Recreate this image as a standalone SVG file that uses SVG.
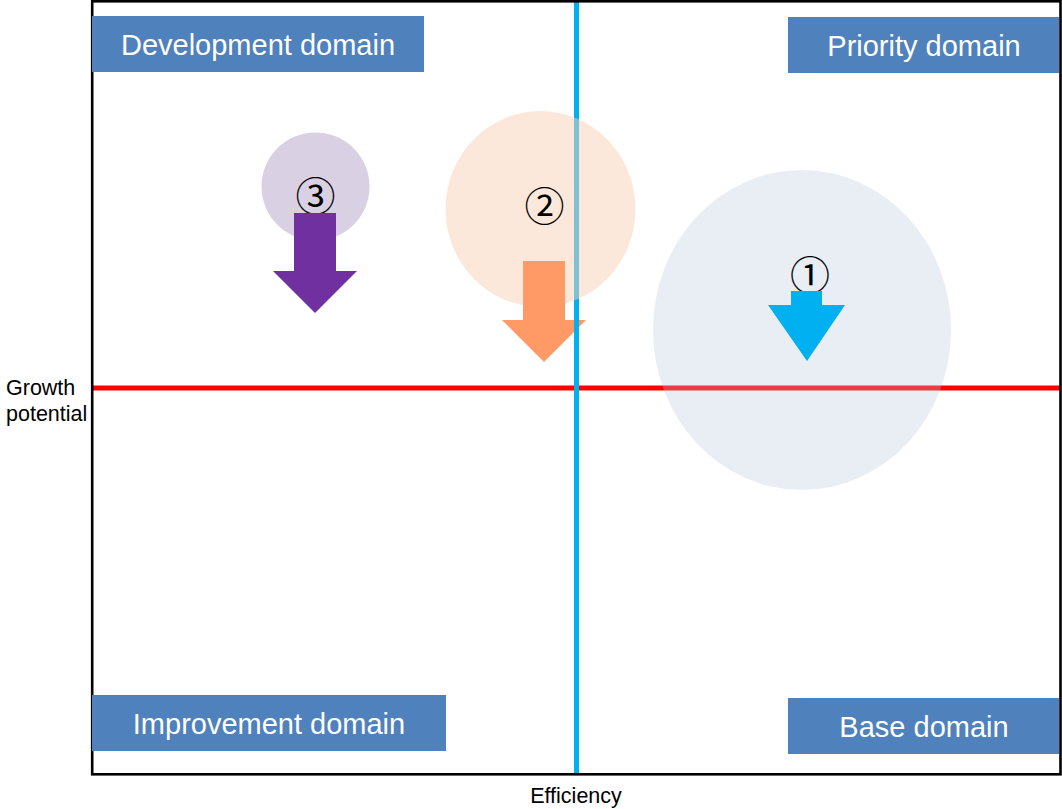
<svg xmlns="http://www.w3.org/2000/svg" width="1062" height="809" viewBox="0 0 1062 809">
  <style>
    .domain { fill: #4F81BD; }
    .domain-label { font-family: "Liberation Sans", Arial, sans-serif; font-size: 29px; fill: #FFFFFF; text-anchor: middle; }
    .axis-label { font-family: "Liberation Sans", Arial, sans-serif; font-size: 21.5px; fill: #000000; }
    .num { font-family: "Noto Sans CJK JP", "DejaVu Sans", sans-serif; font-size: 40px; fill: #000000; text-anchor: middle; }
    .v-axis { stroke: #00B0F0; stroke-width: 5; fill: none; }
    .h-axis { stroke: #FF0000; stroke-width: 5; fill: none; }
  </style>

  <rect x="0" y="0" width="1062" height="809" fill="#FFFFFF"/>

  <!-- axes -->
  <g id="axes">
    <line class="v-axis" x1="576.5" y1="0" x2="576.5" y2="774"/>
    <line class="h-axis" x1="92" y1="388" x2="1060" y2="388"/>
  </g>

  <!-- bubbles -->
  <g id="bubble-1">
    <ellipse cx="802" cy="330" rx="149" ry="160" fill="#B6C8DE" fill-opacity="0.3"/>
  </g>
  <g id="bubble-2">
    <ellipse cx="540.5" cy="209" rx="95" ry="98" fill="#F9D2B6" fill-opacity="0.5"/>
  </g>
  <g id="bubble-3">
    <circle cx="315.5" cy="186.5" r="54" fill="#D9D0E3"/>
  </g>

  <!-- numbers -->
  <g id="labels-num">
    <text class="num" x="315.5" y="211">③</text>
    <text class="num" x="544.5" y="221">②</text>
    <text class="num" x="810" y="290">①</text>
  </g>

  <!-- downward arrows -->
  <g id="arrow-3">
    <polygon points="294,213 336,213 336,271 357,271 315,313 273,271 294,271" fill="#7030A0"/>
  </g>
  <g id="arrow-2">
    <polygon points="523,261 565,261 565,320 586,320 544,362 502,320 523,320" fill="#FF9966"/>
  </g>
  <g id="arrow-1">
    <polygon points="791,291 822,291 822,305 845,305 807,361 768,305 791,305" fill="#00B0F0"/>
  </g>

  <!-- efficiency axis passing over the lower arrowhead -->
  <line class="v-axis" x1="576.5" y1="306" x2="576.5" y2="774"/>

  <!-- frame -->
  <rect x="92.2" y="1.3" width="968.3" height="773" fill="none" stroke="#000000" stroke-width="2.6"/>

  <!-- quadrant tags -->
  <g id="development-domain">
    <rect class="domain" x="92" y="16" width="332" height="56"/>
    <text class="domain-label" x="258" y="55">Development domain</text>
  </g>
  <g id="priority-domain">
    <rect class="domain" x="788" y="17" width="271" height="56"/>
    <text class="domain-label" x="924" y="56">Priority domain</text>
  </g>
  <g id="improvement-domain">
    <rect class="domain" x="92" y="695" width="354" height="56"/>
    <text class="domain-label" x="269" y="734">Improvement domain</text>
  </g>
  <g id="base-domain">
    <rect class="domain" x="788" y="698" width="271" height="56"/>
    <text class="domain-label" x="924" y="737">Base domain</text>
  </g>

  <!-- axis captions -->
  <g id="growth-label">
    <text class="axis-label" x="6" y="395">Growth</text>
    <text class="axis-label" x="6" y="421">potential</text>
  </g>
  <g id="efficiency-label">
    <text class="axis-label" x="576" y="803" text-anchor="middle">Efficiency</text>
  </g>
</svg>
